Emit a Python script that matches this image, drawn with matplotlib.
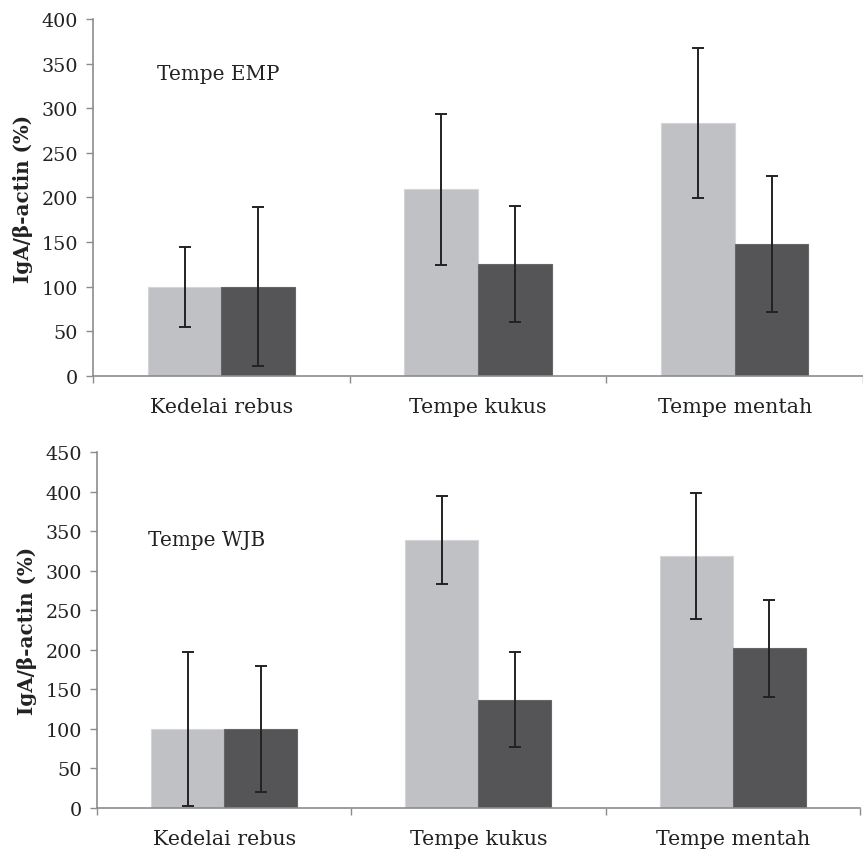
import numpy as np
import matplotlib
matplotlib.use('Agg')
import matplotlib.pyplot as plt
from matplotlib.ticker import FixedLocator

categories = ['Kedelai rebus', 'Tempe kukus', 'Tempe mentah']

# Tempe EMP
emp_light = [100, 209, 283]
emp_light_err = [45, 85, 84]
emp_dark = [100, 125, 148]
emp_dark_err = [89, 65, 76]

# Tempe WJB
wjb_light = [100, 339, 319]
wjb_light_err = [97, 56, 80]
wjb_dark = [100, 137, 202]
wjb_dark_err = [80, 60, 61]

plt.rcParams['font.family'] = 'DejaVu Serif'

light = '#c0c1c4'
dark = '#555557'
axcol = '#8c8c8c'

fig = plt.figure(figsize=(8.63, 8.53), dpi=100)
ax1 = fig.add_axes([0.1078, 0.558, 0.8922, 0.4186])
ax2 = fig.add_axes([0.1124, 0.0516, 0.8841, 0.4170])

def draw(ax, l, le, d, de, ymax, label, lx, ly):
    x = np.arange(len(categories))
    w = 0.287
    ax.bar(x - w/2, l, w, color=light, edgecolor='#d4d5d7', linewidth=0.8, zorder=2)
    ax.bar(x + w/2, d, w, color=dark, edgecolor='#666668', linewidth=0.8, zorder=2)
    ax.errorbar(x - w/2, l, yerr=le, fmt='none', ecolor='#222222', elinewidth=1.4,
                capsize=4, capthick=1.4, zorder=3)
    ax.errorbar(x + w/2, d, yerr=de, fmt='none', ecolor='#222222', elinewidth=1.4,
                capsize=4, capthick=1.4, zorder=3)
    ax.set_xlim(-0.5, 2.5)
    ax.set_ylim(0, ymax)
    ax.set_yticks(np.arange(0, ymax + 1, 50))
    ax.set_xticks(x)
    ax.set_xticklabels(categories, fontsize=14.8, color='#222222')
    ax.xaxis.set_minor_locator(FixedLocator([-0.5, 0.5, 1.5, 2.5]))
    ax.tick_params(axis='x', which='major', length=0, pad=15)
    ax.tick_params(axis='x', which='minor', length=5, color=axcol, width=1)
    ax.tick_params(axis='y', length=5, color=axcol, width=1, labelsize=13.8,
                   labelcolor='#222222', pad=6)
    for s in ['top', 'right']:
        ax.spines[s].set_visible(False)
    for s in ['left', 'bottom']:
        ax.spines[s].set_color(axcol)
        ax.spines[s].set_linewidth(1.2)
    ax.set_ylabel('IgA/β-actin (%)', fontsize=14.3, fontweight='bold', color='#222222', labelpad=6)
    ax.text(lx, ly, label, transform=ax.transAxes, fontsize=14.4, color='#222222',
            va='center', ha='left')

draw(ax1, emp_light, emp_light_err, emp_dark, emp_dark_err, 400, 'Tempe EMP', 0.083, 0.846)
draw(ax2, wjb_light, wjb_light_err, wjb_dark, wjb_dark_err, 450, 'Tempe WJB', 0.067, 0.756)

fig.savefig('out.png', dpi=100)
